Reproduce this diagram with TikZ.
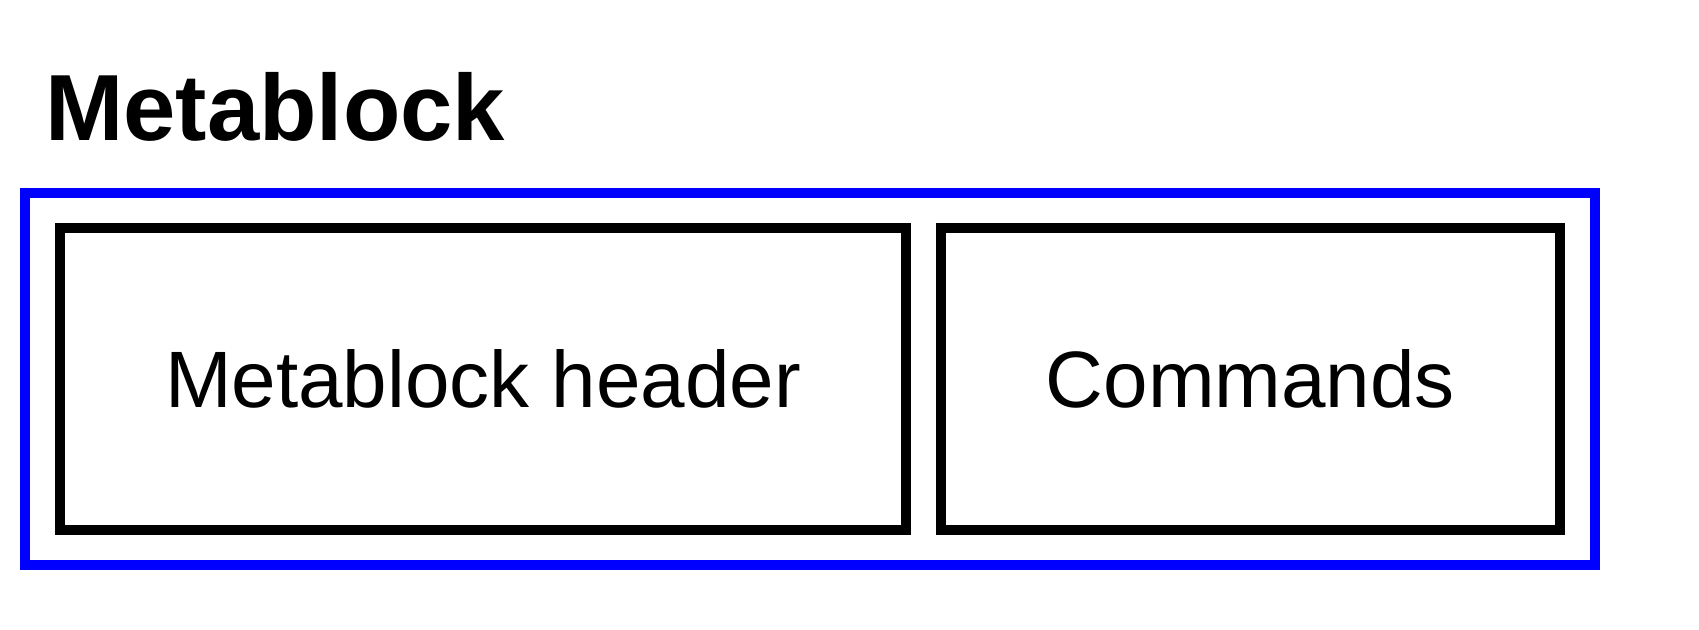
\documentclass[tikz,border=0pt]{standalone}
\usepackage{fontspec}
\setmainfont{Liberation Sans}
\usetikzlibrary{positioning,fit}
\tikzset{
  partbox/.style={draw=black,line width=5pt,outer sep=0pt,minimum height=151pt,
    font=\fontsize{40}{48}\selectfont},
  frame/.style={draw=blue,line width=5pt,inner sep=17.5pt},
}
\begin{document}
\begin{tikzpicture}[x=0.5pt,y=-0.5pt]
\useasboundingbox (0,0) rectangle (1699,630);
\node[anchor=base west,inner sep=0pt,font=\fontsize{47}{56}\selectfont\bfseries] (title) at (45,141) {Metablock};
\node[partbox,minimum width=423pt] (header) at (483,379) {Metablock header};
\node[partbox,minimum width=309.5pt,right=17.5pt of header] (cmds) {Commands};
\node[frame,fit=(header) (cmds)] (meta) {};
\end{tikzpicture}
\end{document}
